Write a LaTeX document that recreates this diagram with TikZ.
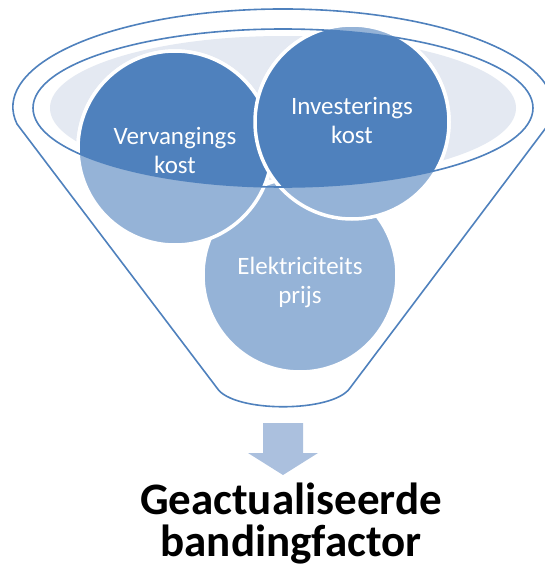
\documentclass[tikz,border=0pt]{standalone}
\usepackage{fontspec}
\setmainfont{Carlito}
\usepackage{tikz}
\usetikzlibrary{positioning}
\definecolor{darkblue}{RGB}{79,129,189}
\definecolor{lightblue}{RGB}{149,179,215}
\definecolor{paleblue}{RGB}{228,233,242}
\definecolor{arrowblue}{RGB}{171,192,222}
\tikzset{
  funnelline/.style={draw=darkblue, line width=1.6pt},
  bubble/.style={circle, draw=white, line width=3.5pt, minimum size=194pt, inner sep=0pt},
  bubbletext/.style={text=white, align=center, font=\fontsize{25}{29}\selectfont},
}

\begin{document}
\begin{tikzpicture}[x=1pt, y=-1pt]
			\clip (0,0) rectangle (545,570);
			% funnel body
			\draw[funnelline, fill=white] (217,388) -- (17,124) arc[start angle=170, end angle=370, x radius=270, y radius=98] -- (350,388) .. controls (333,413) and (233,413) .. cycle;
			\fill[paleblue] (283,108) ellipse[x radius=233, y radius=72];
			
			\node[bubble, fill=lightblue] (elek) at (300,275) {};
			\node[bubble, fill=lightblue] (verv) at (175,148) {};
			\node[bubble, fill=lightblue] (inv)  at (352,122) {};
			\begin{scope}
				\clip (283,108) ellipse[x radius=250, y radius=79];
				\node[bubble, fill=darkblue] at (verv) {};
				\node[bubble, fill=darkblue] at (inv) {};
			\end{scope}
			\draw[funnelline] (283,108) ellipse[x radius=250, y radius=79];
			
			\node[bubbletext] (vervtext) at (175,150) {Vervangings\\kost};
			\node[bubbletext] (invtext)  at (352,120) {Investerings\\kost};
			\node[bubbletext] (elektext) at (300,282) {Elektriciteits\\prijs};
			
			% result arrow
			\fill[arrowblue] (263,423) -- (303,423) -- (303,453) -- (318,453) -- (283,475) -- (248,453) -- (263,453) -- cycle;
			\node[align=center, inner sep=0pt, font=\fontsize{45}{42}\selectfont\bfseries] (result) at (291,524) {Geactualiseerde\\bandingfactor};
			
		\end{tikzpicture}
\end{document}
